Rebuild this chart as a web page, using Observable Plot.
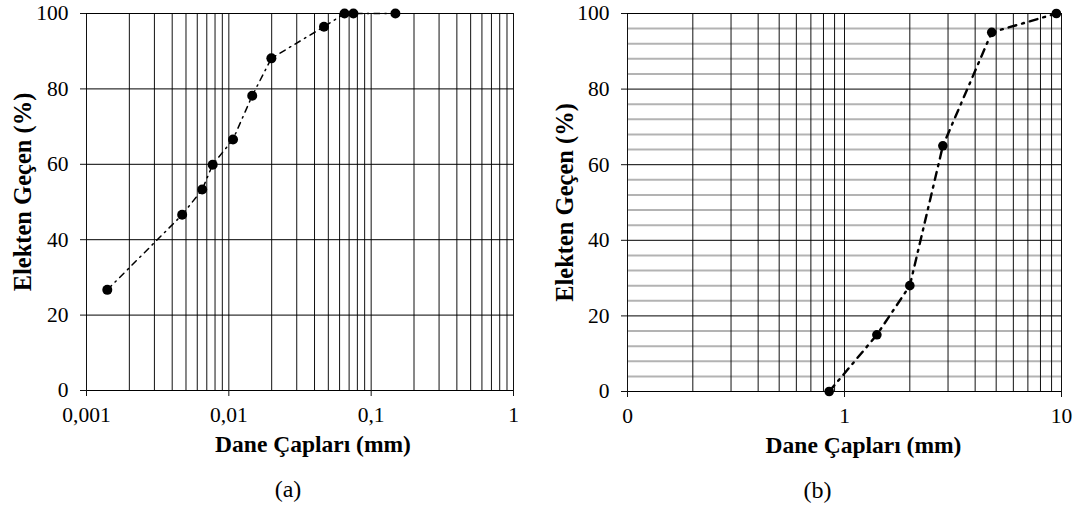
<!DOCTYPE html>
<html>
<head>
<meta charset="utf-8">
<script src="https://cdn.jsdelivr.net/npm/d3@7"></script>
<script src="https://cdn.jsdelivr.net/npm/@observablehq/plot@0.6"></script>
<style>
  html, body { margin: 0; padding: 0; background: #fff; }
  #wrap { display: flex; width: 1077px; height: 506px; }
</style>
</head>
<body>
<div id="wrap"></div>
<script>
// ---- Data ----
const leftSize = [0.0014, 0.0047, 0.0065, 0.0077, 0.0107, 0.0146, 0.0199, 0.0466, 0.065, 0.075, 0.148];
const leftPass = [26.7, 46.6, 53.3, 59.9, 66.6, 78.2, 88.1, 96.5, 100, 100, 100];
const rightSize = [0.85, 1.41, 2.0, 2.84, 4.77, 9.47];
const rightPass = [0, 15, 28, 65, 95, 100];

const leftTicks = [0.001, 0.01, 0.1, 1];
const leftTickLabels = ["0,001", "0,01", "0,1", "1"];
const rightTicks = [0.1, 1, 10];
const rightTickLabels = ["0", "1", "10"];
const yTicks = [0, 20, 40, 60, 80, 100];

const xLabel = "Dane Çapları (mm)";
const yLabel = "Elekten Geçen (%)";
const captions = ["(a)", "(b)"];

const FONT = "'Liberation Serif', 'Times New Roman', serif";

function logGrid(lo, hi) {
  const out = [];
  for (let e = Math.round(Math.log10(lo)); e < Math.round(Math.log10(hi)); e++) {
    for (let m = 1; m < 10; m++) out.push(m * Math.pow(10, e));
  }
  out.push(hi);
  return out;
}

function panel({sizes, pass, ticks, tickLabels, domain, width, marginLeft, marginRight, marginBottom,
                minorY, lineWidth, dash, r, caption, xLabelDx, captionDx, yLabelDx, yLabelDy}) {
  const data = sizes.map((s, i) => ({size: s, pass: pass[i]}));
  const fmt = new Map(ticks.map((t, i) => [t, tickLabels[i]]));
  const marks = [];
  if (minorY) marks.push(Plot.ruleY(minorY, {stroke: "#b3b3b3", strokeWidth: 2}));
  marks.push(
    Plot.ruleX(logGrid(domain[0], domain[1]), {stroke: "#111", strokeWidth: 1}),
    Plot.ruleY(yTicks, {stroke: "#000", strokeWidth: 1}),
    Plot.axisY({ticks: yTicks, tickSize: 6, tickPadding: 12, tickFormat: d => String(d),
                fontSize: 21.5, label: null, stroke: "#111"}),
    Plot.axisX({ticks: ticks, tickSize: 6, tickPadding: 10, tickFormat: d => fmt.get(d),
                fontSize: 21.5, label: null, stroke: "#111"}),
    Plot.line(data, {x: "size", y: "pass", stroke: "#000", strokeWidth: lineWidth,
                     strokeDasharray: dash, curve: "linear"}),
    Plot.dot(data, {x: "size", y: "pass", r: r, fill: "#000", stroke: "none"}),
    Plot.text([xLabel], {frameAnchor: "bottom", textAnchor: "middle", lineAnchor: "middle",
                         dy: 54, dx: xLabelDx, fontWeight: "bold", fontSize: 23.5, fill: "#000"}),
    Plot.text([caption], {frameAnchor: "bottom", textAnchor: "middle", lineAnchor: "middle",
                          dy: 99, dx: captionDx, fontSize: 24, fill: "#000"}),
    Plot.text([yLabel], {frameAnchor: "left", textAnchor: "middle", lineAnchor: "middle",
                         rotate: -90, dx: yLabelDx, dy: yLabelDy,
                         fontWeight: "bold", fontSize: 24.5, fill: "#000"})
  );
  return Plot.plot({
    width, height: 506,
    marginLeft, marginRight, marginTop: 13, marginBottom,
    style: {fontFamily: FONT, fontSize: "20px", color: "#000", background: "#fff", overflow: "visible"},
    x: {type: "log", domain: domain},
    y: {domain: [0, 100]},
    marks
  });
}

const wrap = document.getElementById("wrap");
wrap.appendChild(panel({
  sizes: leftSize, pass: leftPass, ticks: leftTicks, tickLabels: leftTickLabels,
  domain: [0.001, 1], width: 538, marginLeft: 86, marginRight: 25, marginBottom: 116,
  minorY: null, lineWidth: 1.5, dash: "6,5,1.5,5", r: 5, caption: captions[0],
  xLabelDx: 13, captionDx: -12, yLabelDx: -63.5, yLabelDy: -10
}));
wrap.appendChild(panel({
  sizes: rightSize, pass: rightPass, ticks: rightTicks, tickLabels: rightTickLabels,
  domain: [0.1, 10], width: 539, marginLeft: 89, marginRight: 16, marginBottom: 115,
  minorY: d3.range(0, 101, 4).filter(v => v % 20 !== 0), lineWidth: 2.4, dash: "8,6,2,6", r: 4.8,
  caption: captions[1], xLabelDx: 19, captionDx: -27, yLabelDx: -62, yLabelDy: 0
}));
</script>
</body>
</html>
